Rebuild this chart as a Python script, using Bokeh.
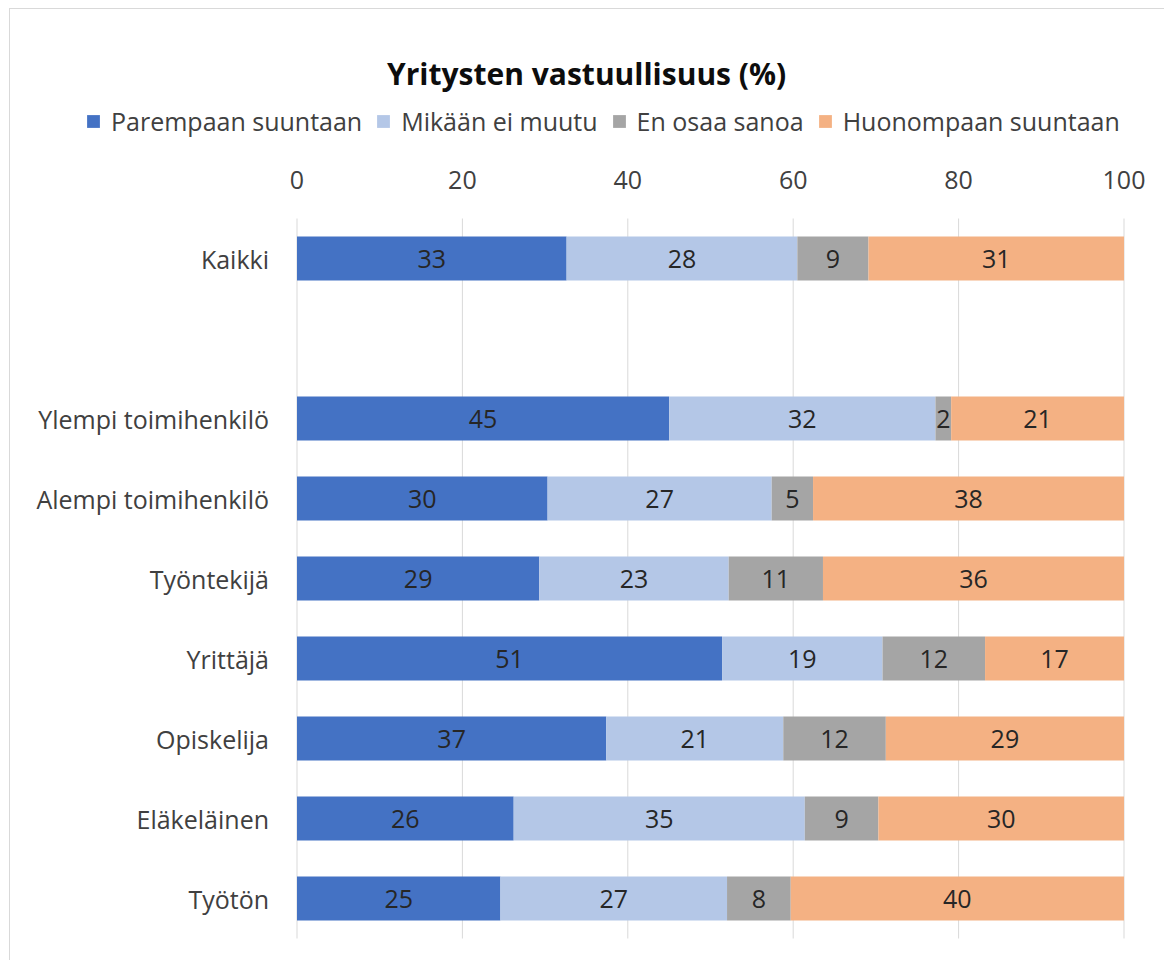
from bokeh.plotting import figure
from bokeh.models import ColumnDataSource, Range1d, Legend, LegendItem
from bokeh.core.properties import value
from bokeh.embed import file_html
from bokeh.resources import INLINE

title_text = "Yritysten vastuullisuus (%)"
categories = ["Kaikki", "", "Ylempi toimihenkilö", "Alempi toimihenkilö", "Työntekijä",
              "Yrittäjä", "Opiskelija", "Eläkeläinen", "Työtön"]
series_names = ["Parempaan suuntaan", "Mikään ei muutu", "En osaa sanoa", "Huonompaan suuntaan"]
parempaan = [32.6, None, 45.0, 30.3, 29.3, 51.4, 37.4, 26.2, 24.6]
mikaan = [27.9, None, 32.2, 27.1, 22.9, 19.4, 21.4, 35.2, 27.4]
en_osaa = [8.6, None, 1.9, 5.0, 11.4, 12.4, 12.4, 8.9, 7.7]
huonompaan = [30.9, None, 20.9, 37.6, 36.4, 16.8, 28.8, 29.7, 40.3]
colors = ["#4472C4", "#B4C7E7", "#A5A5A5", "#F4B183"]
x_ticks = [0, 20, 40, 60, 80, 100]
x_tick_labels = ["0", "20", "40", "60", "80", "100"]

FONT = "Open Sans"
FS = "25px"
series = [parempaan, mikaan, en_osaa, huonompaan]
keys = ["s0", "s1", "s2", "s3"]

# ---- layout constants (canvas pixels) ----
W, H = 1155, 952
TOP = 84                 # header band holding the title
PX_X0, PX_X100 = 286.5, 1113.5   # where 0 and 100 fall on the canvas
ROW_PX = 80.0            # pixel height of one category row
FIRST_ROW_CY = 249.0     # canvas y of the first row centre
px_per_unit = (PX_X100 - PX_X0) / 100.0
x_start = -PX_X0 / px_per_unit
x_end = 100 + (W - PX_X100) / px_per_unit
y_top = -(FIRST_ROW_CY - TOP) / ROW_PX
y_bottom = (H - FIRST_ROW_CY) / ROW_PX

rows = [i for i, c in enumerate(categories) if c]
data = {"y": rows}
for k, s in zip(keys, series):
    data[k] = [s[i] for i in rows]
source = ColumnDataSource(data)

p = figure(width=W, height=H, output_backend="svg", toolbar_location=None,
           x_range=Range1d(x_start, x_end), y_range=Range1d(y_bottom, y_top),
           x_axis_type=None, y_axis_type=None,
           min_border_left=0, min_border_right=0, min_border_bottom=0, min_border_top=TOP,
           styles={"margin-left": "9px", "margin-top": "8px",
                   "border-top": "1px solid #d9d9d9", "border-left": "1px solid #d9d9d9"})
p.outline_line_color = None
for g in p.grid:
    g.visible = False

band_top = -0.5
band_bottom = len(categories) - 0.5

# vertical gridlines at the tick values
p.segment(x0=x_ticks, x1=x_ticks, y0=[band_top] * len(x_ticks), y1=[band_bottom] * len(x_ticks),
          line_color="#d9d9d9", line_width=1)

renderers = p.hbar_stack(keys, y="y", height=0.55, color=colors, line_color=None, source=source)

# data labels
lx, ly, lt = [], [], []
for i in rows:
    left = 0.0
    for s in series:
        v = s[i]
        lx.append(left + v / 2.0)
        ly.append(i)
        lt.append(str(int(round(v))))
        left += v
p.text(x=lx, y=ly, text=lt, text_align="center", text_baseline="middle",
       text_font=value(FONT), text_font_size=FS, text_color="#262626")

# category labels (left of the zero line)
p.text(x=[0] * len(rows), y=rows, text=[categories[i] for i in rows],
       x_offset=-28, text_align="right", text_baseline="middle",
       text_font=value(FONT), text_font_size=FS, text_color="#404040")

# value-axis labels above the band
p.text(x=x_ticks, y=[band_top] * len(x_ticks), text=x_tick_labels,
       y_offset=-39, text_align="center", text_baseline="middle",
       text_font=value(FONT), text_font_size=FS, text_color="#404040")

legend = Legend(items=[LegendItem(label=n, renderers=[r]) for n, r in zip(series_names, renderers)],
                orientation="horizontal", location=(75, 823),
                glyph_width=16, glyph_height=16, label_standoff=10, spacing=13,
                padding=0, margin=0, border_line_color=None, background_fill_alpha=0,
                label_text_font=FONT, label_text_font_size=FS, label_text_color="#404040")
p.add_layout(legend, "center")

p.title.text = title_text
p.title.align = "left"
p.title.offset = 376.5
p.title.standoff = 0
p.title.text_font = FONT
p.title.text_font_style = "bold"
p.title.text_font_size = "30px"
p.title.text_color = "#0d0d0d"

open("out.html", "w").write(file_html(p, INLINE))
